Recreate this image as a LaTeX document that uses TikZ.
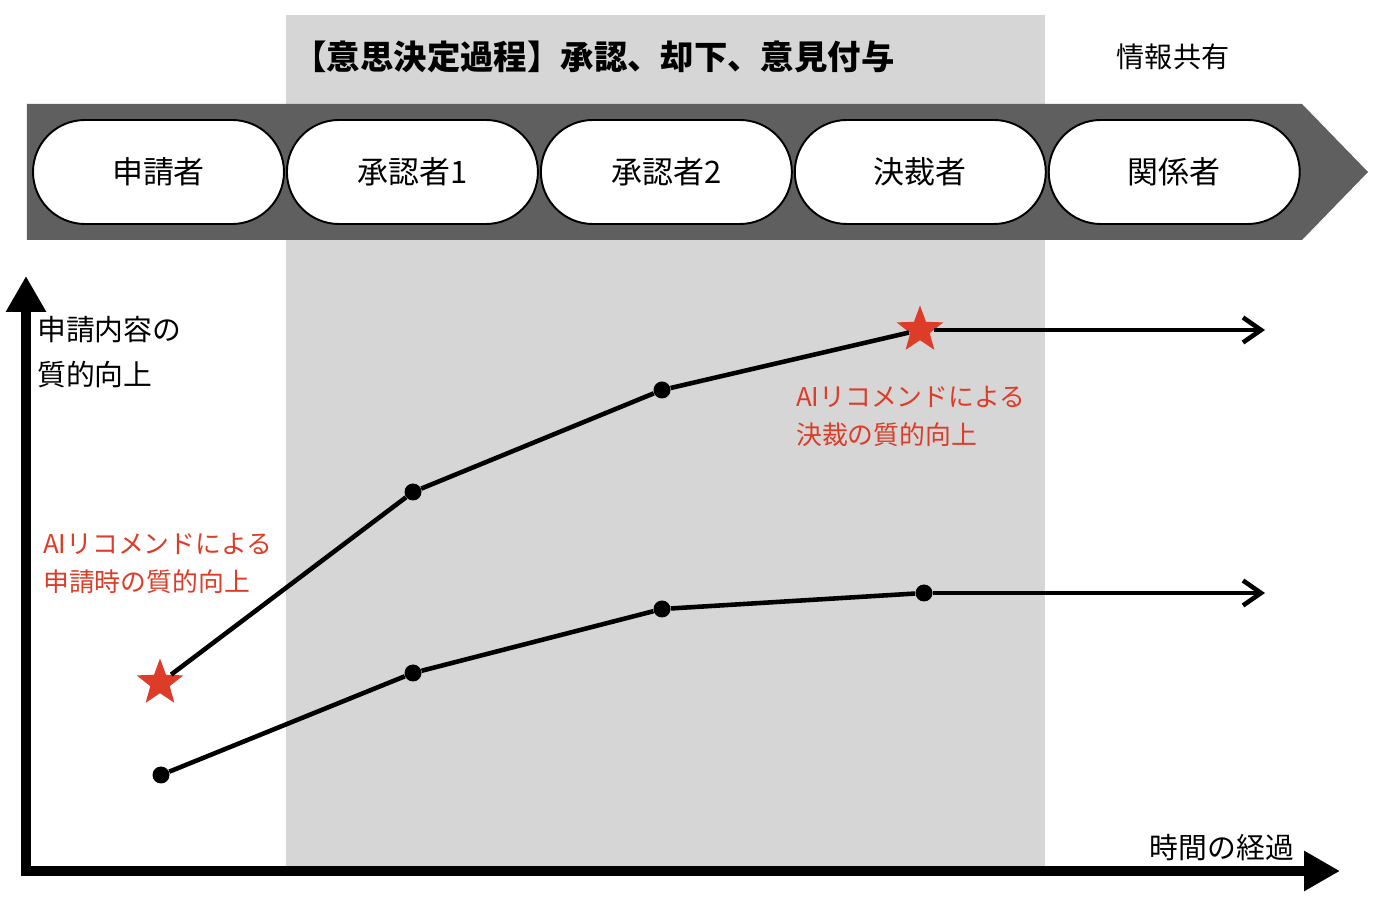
\documentclass[tikz,border=0pt]{standalone}
\usepackage{fontspec}
\usepackage{xcolor}
\usetikzlibrary{positioning,shapes.geometric,arrows.meta}

\newfontfamily\jpfont{Noto Sans CJK JP}

\definecolor{grisfondo}{HTML}{D6D6D6}
\definecolor{grisbanda}{HTML}{5F5F5F}
\definecolor{rojoai}{HTML}{DD3C28}

\begin{document}
\begin{tikzpicture}[font=\jpfont,
    actor/.style={draw=black, line width=1.1pt, fill=white, rounded corners=1.04cm,
        minimum width=5.02cm, minimum height=2.08cm, inner sep=0pt,
        font=\jpfont\fontsize{17.6}{20}\selectfont},
    punto/.style={circle, fill=black, minimum size=0.34cm, inner sep=0pt},
    estrella/.style={star, star points=5, star point ratio=2.4, fill=rojoai,
        minimum size=0.98cm, inner sep=0pt},
    curva/.style={line width=2.6pt},
    eje/.style={line width=5.7pt, -{Triangle[length=0.72cm,width=0.76cm]}},
    nota/.style={text=rojoai, align=left, anchor=west,
        font=\jpfont\fontsize{14.7}{22.1}\selectfont}]

    \useasboundingbox (0,0) rectangle (27.56,17.92);

    % Area del proceso de decision
    \fill[grisfondo] (5.72,0.6) rectangle (20.90,17.62);

    % Banda con flecha
    \fill[grisbanda] (0.54,15.84) -- (26.04,15.84) -- (27.36,14.48)
        -- (26.04,13.12) -- (0.54,13.12) -- cycle;

    % Actores
    \node[actor] (solicitante) at (3.17,14.48) {申請者};
    \node[actor, right=0.02cm of solicitante] (aprob1) {承認者1};
    \node[actor, right=0.02cm of aprob1] (aprob2) {承認者2};
    \node[actor, right=0.02cm of aprob2] (decisor) {決裁者};
    \node[actor, right=0.02cm of decisor] (interesados) {関係者};

    % Titulos
    \node[font=\jpfont\bfseries\fontsize{19}{22}\selectfont] (titulo) at (11.88,16.78)
        {【意思決定過程】承認、却下、意見付与};
    \node[font=\jpfont\fontsize{16}{18}\selectfont] (compartir) at (23.46,16.78) {情報共有};

    % Ejes
    \coordinate (origen) at (0.52,0.50);
    \coordinate (ytope) at (0.52,12.4);
    \coordinate (xizq) at (0.42,0.50);
    \coordinate (xfin) at (26.8,0.50);
    \draw[eje] (origen) -- (ytope);
    \draw[eje] (xizq) -- (xfin);

    % Etiquetas de ejes
    \node[align=left, anchor=west, font=\jpfont\fontsize{16.4}{25.5}\selectfont] (calidad)
        at (0.62,10.88) {申請内容の\\質的向上};
    \node[font=\jpfont\fontsize{16.4}{18}\selectfont] (tiempo) at (24.44,0.96) {時間の経過};

    % Curva con AI
    \node[estrella] (e1) at (3.2,4.26) {};
    \node[punto] (a1) at (8.26,8.08) {};
    \node[punto] (a2) at (13.24,10.12) {};
    \node[estrella] (e2) at (18.4,11.32) {};
    \coordinate (afin) at (25.3,11.32);
    \draw[curva] (e1) -- (a1) -- (a2) -- (e2);
    \draw[curva, -{Straight Barb[length=0.36cm,width=0.5cm]}] (e2) -- (afin);

    % Curva sin AI
    \node[punto] (b0) at (3.22,2.42) {};
    \node[punto] (b1) at (8.26,4.46) {};
    \node[punto] (b2) at (13.24,5.74) {};
    \node[punto] (b3) at (18.48,6.06) {};
    \coordinate (bfin) at (25.3,6.06);
    \draw[curva] (b0) -- (b1) -- (b2) -- (b3);
    \draw[curva, -{Straight Barb[length=0.36cm,width=0.5cm]}] (b3) -- (bfin);

    %leyendas
    \node[nota] (nota1) at (0.74,6.65) {AIリコメンドによる\\申請時の質的向上};
    \node[nota] (nota2) at (15.80,9.59) {AIリコメンドによる\\決裁の質的向上};

\end{tikzpicture}
\end{document}
